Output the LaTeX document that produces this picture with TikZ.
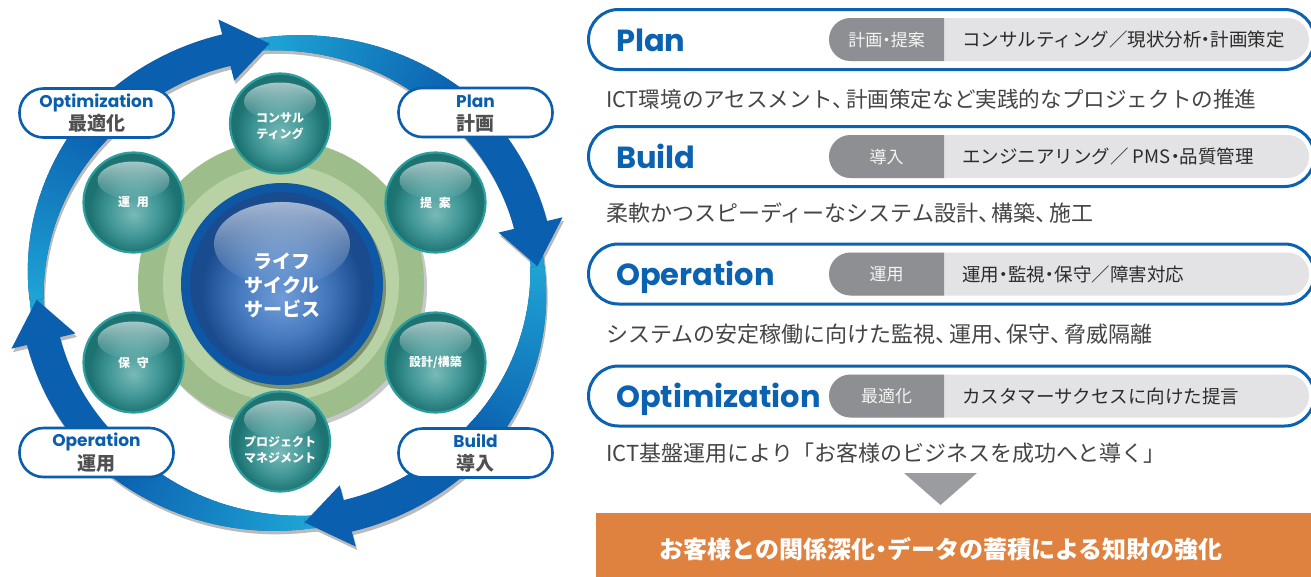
\documentclass[tikz,border=0pt]{standalone}
\usepackage{fontspec}
\setmainfont{Noto Sans CJK JP}
\newfontfamily\jp{Noto Sans CJK JP}
\newfontfamily\pop{Poppins}
\usetikzlibrary{fadings}
\newcommand\tten{\makebox[0.62em][l]{、}}
\newcommand\nkd{\makebox[0.5em][c]{・}}
\definecolor{ringlight}{HTML}{1EA3D4}
\definecolor{arrdark}{HTML}{0B5FAF}
\definecolor{shadowg}{HTML}{B9BABC}
\definecolor{lblue}{HTML}{0B5EAB}
\definecolor{jgray}{HTML}{505050}
\definecolor{greenO}{HTML}{9DBE8A}
\definecolor{greenI}{HTML}{B8D2A6}
\definecolor{coreRim}{HTML}{0D57A5}
\definecolor{tealC}{HTML}{78BAB8}
\definecolor{tealM}{HTML}{3F9695}
\definecolor{tealE}{HTML}{1D7372}
\definecolor{tealrim}{HTML}{2C9E9B}
\definecolor{sphC}{HTML}{709DD8}
\definecolor{sphM}{HTML}{4579BE}
\definecolor{sphE}{HTML}{1A4B8F}
\definecolor{pblue}{HTML}{0B62B0}
\definecolor{tagdark}{HTML}{8E8F92}
\definecolor{taglight}{HTML}{E3E3E5}
\definecolor{txtdark}{HTML}{2B2B2B}
\definecolor{desc}{HTML}{454545}
\definecolor{trigray}{HTML}{9B9C9F}
\definecolor{orangeb}{HTML}{E0823F}
\pgfdeclareradialshading{tealball}{\pgfpoint{0bp}{-6bp}}{color(0bp)=(tealC); color(13bp)=(tealM); color(22bp)=(tealE); color(25bp)=(tealE); color(50bp)=(tealE)}
\pgfdeclareradialshading{bluesph}{\pgfpoint{0bp}{-4bp}}{color(0bp)=(sphC); color(12bp)=(sphM); color(22bp)=(sphE); color(25bp)=(sphE); color(50bp)=(sphE)}
\tikzfading[name=hlfade, top color=transparent!40, bottom color=transparent!100]
\tikzset{
  lbl/.style={draw=lblue, line width=2.6pt, fill=white, rounded corners=24pt, minimum width=154pt, minimum height=49pt, inner sep=0pt},
  lbltitle/.style={text=lblue, font=\pop\bfseries\fontsize{17}{17}\selectfont, anchor=base, inner sep=0pt},
  lbljp/.style={text=jgray, font=\jp\bfseries\fontsize{19}{19}\selectfont, anchor=base, inner sep=0pt},
  ball/.style={circle, minimum size=100pt, inner sep=0pt, shading=tealball, draw=tealrim, line width=2.2pt},
  balltxt/.style={text=white, font=\jp\bfseries\fontsize{12}{16}\selectfont, align=center, inner sep=0pt},
  panel/.style={draw=pblue, line width=3pt, fill=white, rounded corners=30pt, minimum width=726pt, minimum height=60pt, inner sep=0pt},
  tagbox/.style={fill=taglight, rounded corners=21.5pt, minimum width=480pt, minimum height=43pt, inner sep=0pt},
  ptitle/.style={text=pblue, font=\pop\bfseries\fontsize{30.5}{30.5}\selectfont, anchor=base west, inner sep=0pt},
  tagtxt/.style={text=white!96!black, font=\jp\fontsize{17}{17}\selectfont, anchor=base, inner sep=0pt},
  lighttxt/.style={text=txtdark, font=\jp\fontsize{18.5}{18.5}\selectfont, anchor=base west, inner sep=0pt},
  desctxt/.style={text=desc, font=\jp\fontsize{22}{22}\selectfont, anchor=base west, inner sep=0pt},
}
\begin{document}
\begin{tikzpicture}[x=1pt,y=-1pt]
\useasboundingbox (0,0) rectangle (1311,576);
\clip (0,0) rectangle (1311,576);
\fill[white] (0,0) rectangle (1311,576);

% ---- ring shadow ----
\begin{scope}[shift={(288.5,286.5)}, yscale=-0.9562]
  \fill[shadowg, even odd rule] (0,0) circle[radius=258] (0,0) circle[radius=244];
  \foreach \t in {94,4,-86,-176}{
    \fill[shadowg] plot[domain=0:80, samples=41] ({\t+90-\x}:{258+10*min(\x,45)/45})
      -- ({\t+10}:284) -- ({\t}:251) -- ({\t+10}:218)
      -- plot[domain=80:0, samples=41] ({\t+90-\x}:{244-10*min(\x,45)/45}) -- cycle;
  }
\end{scope}
% ---- ring and arrows ----
\begin{scope}[shift={(287,283)}, yscale=-0.9562]
  \fill[ringlight, even odd rule] (0,0) circle[radius=258] (0,0) circle[radius=244];
  \foreach \t in {94,4,-86,-176}{
    \fill[arrdark] plot[domain=0:80, samples=41] ({\t+90-\x}:{258+10*min(\x,45)/45})
      -- ({\t+10}:284) -- ({\t}:251) -- ({\t+10}:218)
      -- plot[domain=80:0, samples=41] ({\t+90-\x}:{244-10*min(\x,45)/45}) -- cycle;
    \foreach \i in {0,...,44}{
      \pgfmathsetmacro\a{\t+90-\i}
      \pgfmathsetmacro\b{\a-1.4}
      \pgfmathsetmacro\wa{7+10*\i/45}
      \pgfmathsetmacro\wb{7+10*min(\i+1.4,45)/45}
      \pgfmathtruncatemacro\p{100*\i/45}
      \fill[arrdark!\p!ringlight] ({\a}:{251+\wa}) -- ({\b}:{251+\wb}) -- ({\b}:{251-\wb}) -- ({\a}:{251-\wa}) -- cycle;
    }
  }
\end{scope}

% ---- green disk and core ----
\fill[shadowg!80] (284,287) circle[radius=143];
\node[circle, fill=greenO, minimum size=286pt, inner sep=0pt] (green) at (281,283) {};
\node[circle, fill=greenI, minimum size=236pt, inner sep=0pt] (greenin) at (281,283) {};
\fill[black!45!greenO, opacity=0.6] (285,288) circle[radius=101];
\node[circle, fill=coreRim, minimum size=202pt, inner sep=0pt] (core) at (282,284) {};
\shade[shading=bluesph] (core.center) circle[radius=92pt];
\fill[white, path fading=hlfade] ([yshift=40pt]core.center) ellipse [x radius=68pt, y radius=42pt];
\node[text=white, font=\jp\bfseries\fontsize{19}{24}\selectfont, align=center, inner sep=0pt] (coretxt) at (282,285) {ライフ\\サイクル\\サービス};

% ---- teal balls ----
\foreach \n/\bx/\by in {b1/280/123.5, b2/435.5/202.5, b3/435.5/362.5, b4/280/441.5, b5/133.5/362.5, b6/133.5/202.5}{
  \node[ball] (\n) at (\bx,\by) {};
  \fill[white, path fading=hlfade] ([yshift=22pt]\n.center) ellipse [x radius=36pt, y radius=19pt];
}
\node[balltxt] (b1t) at (280,126) {コンサル\\ティング};
\node[balltxt] (b2t) at (435.5,202.5) {提\hspace{0.55em}案};
\node[balltxt] (b3t) at (435.5,362.5) {設計/構築};
\node[balltxt] (b4t) at (280,450) {プロジェクト\\マネジメント};
\node[balltxt] (b5t) at (133.5,362.5) {保\hspace{0.55em}守};
\node[balltxt] (b6t) at (133.5,202.5) {運\hspace{0.55em}用};

% ---- cycle labels ----
\node[lbl] (optL) at (96.5,113) {};
\node[lbltitle] (optT) at (96.5,107) {Optimization};
\node[lbljp] (optJ) at (96.5,130.5) {最適化};
\node[lbl] (planL) at (475.5,112.5) {};
\node[lbltitle] (planT) at (475.5,107) {Plan};
\node[lbljp] (planJ) at (475.5,130.5) {計画};
\node[lbl] (operL) at (96.5,452.5) {};
\node[lbltitle] (operT) at (96.5,446.5) {Operation};
\node[lbljp] (operJ) at (96.5,470) {運用};
\node[lbl] (buildL) at (475.5,453) {};
\node[lbltitle] (buildT) at (475.5,447) {Build};
\node[lbljp] (buildJ) at (475.5,470.5) {導入};

% ---- right panels ----
\foreach \Y/\nm/\ttl/\tg/\lt in {39.5/a/Plan/計画\nkd 提案/コンサルティング／現状分析\nkd 計画策定,
  156.5/b/Build/導入/エンジニアリング／ PMS\nkd 品質管理,
  274/c/Operation/運用/運用\nkd 監視\nkd 保守／障害対応,
  396/d/Optimization/最適化/カスタマーサクセスに向けた提言}{
  \node[panel] (p\nm) at (951.5,\Y) {};
  \node[tagbox] (g\nm) at (1069,\Y) {};
  \begin{scope}
    \clip (829,\Y-23) rectangle (944,\Y+23);
    \fill[tagdark, rounded corners=21.5pt] (829,\Y-21.5) rectangle (1309,\Y+21.5);
  \end{scope}
  \node[ptitle] (t\nm) at (616,\Y+11.5) {\ttl};
  \node[tagtxt] (k\nm) at (886.5,\Y+6.5) {\tg};
  \node[lighttxt] (l\nm) at (962,\Y+7.2) {\lt};
}
\node[desctxt, font=\jp\fontsize{21.6}{21.6}\selectfont] (d1) at (606,107.2) {ICT環境のアセスメント\tten 計画策定など実践的なプロジェクトの推進};
\node[desctxt] (d2) at (606,221.4) {柔軟かつスピーディーなシステム設計\tten 構築\tten 施工};
\node[desctxt] (d3) at (606,342.4) {システムの安定稼働に向けた監視\tten 運用\tten 保守\tten 脅威隔離};
\node[desctxt] (d4) at (606,461.4) {ICT基盤運用により「お客様のビジネスを成功へと導く」};

\fill[trigray] (904,473) -- (977,473) -- (940.5,505) -- cycle;
\node[fill=orangeb, minimum width=720pt, minimum height=64pt, anchor=north west, inner sep=0pt] (res) at (596,513) {};
\node[text=white, font=\jp\bfseries\fontsize{24}{24}\selectfont, anchor=base, inner sep=0pt] (rest) at (941,558) {お客様との関係深化\nkd データの蓄積による知財の強化};
\end{tikzpicture}
\end{document}
